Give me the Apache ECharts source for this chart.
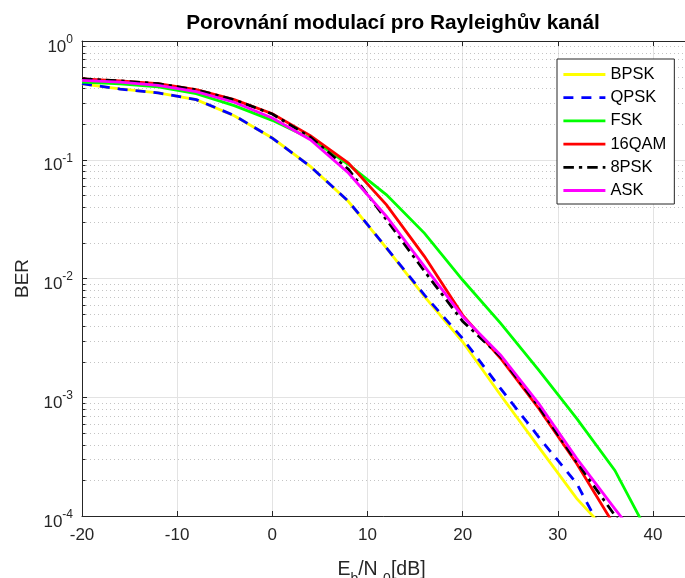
<!DOCTYPE html>
<html>
<head>
<meta charset="utf-8">
<title>BER – Rayleigh</title>
<script src="https://cdn.jsdelivr.net/npm/echarts@6/dist/echarts.min.js"></script>
<style>
  html, body { margin: 0; padding: 0; background: #ffffff; }
  #chart { width: 685px; height: 578px; }
</style>
</head>
<body>
<div id="chart"></div>
<script>
// Eb/N0 sweep [dB]
const snrDb = [-20, -16, -12, -8, -4, 0, 4, 8, 12, 16, 20, 24, 28, 32, 36, 40];

// Simulated bit error rates per modulation
const berBpsk  = [0.4355, 0.3954, 0.3656, 0.3206, 0.2350, 0.1524, 0.0879, 0.0445, 0.0180, 0.00703, 0.00293, 0.00104, 3.80e-4, 1.40e-4, 6.3e-5];
const berQpsk  = [0.4370, 0.3940, 0.3660, 0.3210, 0.2360, 0.1520, 0.0878, 0.0447, 0.0181, 0.00724, 0.00313, 0.00118, 4.62e-4, 1.87e-4, 4.7e-5];
const berFsk   = [0.4498, 0.4355, 0.4102, 0.3606, 0.2858, 0.2148, 0.1514, 0.0912, 0.0507, 0.0240, 0.00971, 0.00419, 0.00169, 6.61e-4, 2.42e-4, 6.0e-5];
const ber16qam = [0.4797, 0.4613, 0.4375, 0.3899, 0.3206, 0.2443, 0.1596, 0.0938, 0.0417, 0.0153, 0.00492, 0.00212, 8.04e-4, 2.75e-4, 8.2e-5];
const ber8psk  = [0.4797, 0.4613, 0.4365, 0.3890, 0.3199, 0.2427, 0.1549, 0.0832, 0.0312, 0.01148, 0.00437, 0.00219, 8.32e-4, 2.84e-4, 1.01e-4, 3.6e-5];
const berAsk   = [0.4667, 0.4498, 0.4236, 0.3750, 0.3048, 0.2249, 0.1476, 0.0773, 0.0333, 0.01259, 0.00479, 0.00226, 8.85e-4, 3.04e-4, 1.15e-4, 4.4e-5];

const seriesNames = ['BPSK', 'QPSK', 'FSK', '16QAM', '8PSK', 'ASK'];
const seriesValues = [berBpsk, berQpsk, berFsk, ber16qam, ber8psk, berAsk];

// Axis ranges and tick spacing
const xMin = -20, xMax = 44, xStep = 10;
const yMin = 1e-4, yMax = 1;

const FONT = '"Liberation Sans", Arial, Helvetica, sans-serif';
const AXIS_COLOR = '#262626';
const GRID_COLOR = '#e3e3e3';
const MINOR_GRID_COLOR = '#c4c4c4';
const LINE_WIDTH = 2.8;

const lineLook = {
  'BPSK':  { color: '#ffff00', type: 'solid' },
  'QPSK':  { color: '#0000ff', type: [10, 8] },
  'FSK':   { color: '#00ff00', type: 'solid' },
  '16QAM': { color: '#ff0000', type: 'solid' },
  '8PSK':  { color: '#000000', type: [10.5, 5, 3.3, 5] },
  'ASK':   { color: '#ff00ff', type: 'solid' }
};

// Minor log-decade levels (2..9 x 10^k) for the dotted grid and small ticks
const minorLevels = [];
for (let e = Math.round(Math.log10(yMin)); e < Math.round(Math.log10(yMax)); e++) {
  for (let m = 2; m <= 9; m++) minorLevels.push(m * Math.pow(10, e));
}

function toPairs(values) {
  return values.map((v, i) => [snrDb[i], v]);
}

const dataSeries = seriesNames.map((name, i) => ({
  name: name,
  type: 'line',
  xAxisIndex: 0,
  yAxisIndex: 0,
  data: toPairs(seriesValues[i]),
  symbol: 'none',
  showSymbol: false,
  smooth: false,
  z: 3,
  color: lineLook[name].color,
  lineStyle: { color: lineLook[name].color, width: LINE_WIDTH, type: lineLook[name].type, cap: 'butt', join: 'miter' },
  emphasis: { disabled: true },
  animation: false
}));

const minorGridSeries = {
  name: 'minor-grid',
  type: 'custom',
  xAxisIndex: 0,
  yAxisIndex: 0,
  silent: true,
  z: 1,
  animation: false,
  data: minorLevels.map(v => [xMin, v]),
  encode: { x: 0, y: 1 },
  renderItem: function (params, api) {
    const cs = params.coordSys;
    const y = Math.round(api.coord([xMin, api.value(1)])[1]) + 0.5;
    const x0 = cs.x, x1 = cs.x + cs.width;
    return {
      type: 'group',
      children: [
        { type: 'line', shape: { x1: x0, y1: y, x2: x1, y2: y },
          style: { stroke: MINOR_GRID_COLOR, lineWidth: 1, lineDash: [1, 3] } },
        { type: 'line', shape: { x1: x0, y1: y, x2: x0 + 3.5, y2: y },
          style: { stroke: AXIS_COLOR, lineWidth: 1 } },
        { type: 'line', shape: { x1: x1 - 3.5, y1: y, x2: x1, y2: y },
          style: { stroke: AXIS_COLOR, lineWidth: 1 } }
      ]
    };
  }
};

const chart = echarts.init(document.getElementById('chart'), null, { renderer: 'canvas' });

chart.setOption({
  backgroundColor: '#ffffff',
  animation: false,
  title: {
    text: 'Porovnání modulací pro Rayleighův kanál',
    left: 388,
    top: 8,
    textAlign: 'center',
    textStyle: { fontFamily: FONT, fontSize: 20.8, fontWeight: 'bold', color: '#000000' }
  },
  grid: {
    left: 82, top: 41, right: -6, bottom: 62,
    containLabel: false,
    outerBoundsMode: 'none'
  },
  legend: {
    data: seriesNames,
    orient: 'vertical',
    left: 557,
    top: 59,
    backgroundColor: '#ffffff',
    borderColor: AXIS_COLOR,
    borderWidth: 1,
    borderRadius: 0,
    padding: [7, 8, 5, 5],
    itemWidth: 42,
    itemHeight: 14,
    itemGap: 6.2,
    selectedMode: false,
    itemStyle: { color: 'rgba(0,0,0,0)', borderWidth: 0, opacity: 0 },
    lineStyle: { width: LINE_WIDTH },
    textStyle: { fontFamily: FONT, fontSize: 16.5, color: '#000000', lineHeight: 16 }
  },
  xAxis: [
    {
      type: 'value', position: 'bottom',
      min: xMin, max: xMax, interval: xStep,
      axisLine: { show: true, onZero: false, lineStyle: { color: AXIS_COLOR, width: 1 } },
      axisTick: { show: true, inside: true, length: 5, lineStyle: { color: AXIS_COLOR } },
      axisLabel: {
        color: AXIS_COLOR, fontFamily: FONT, fontSize: 17, margin: 10, lineHeight: 18,
        formatter: v => (v % xStep === 0 && v <= 40 ? String(v) : '')
      },
      splitLine: { show: true, lineStyle: { color: GRID_COLOR, width: 1 } },
      name: '{m|E}{s|b}{m|/N }{s|0}{m|[dB]}',
      nameLocation: 'middle',
      nameGap: 44,
      nameTextStyle: {
        padding: [0, 10, 0, 0],
        rich: {
          m: { fontFamily: FONT, fontSize: 19.5, color: AXIS_COLOR, padding: [0, 0, 8, 0] },
          s: { fontFamily: FONT, fontSize: 14, color: AXIS_COLOR, padding: [10, 0, 0, 0] }
        }
      }
    },
    {
      type: 'value', position: 'top',
      min: xMin, max: xMax, interval: xStep,
      axisLine: { show: true, onZero: false, lineStyle: { color: AXIS_COLOR, width: 1 } },
      axisTick: { show: true, inside: true, length: 5, lineStyle: { color: AXIS_COLOR } },
      axisLabel: { show: false },
      splitLine: { show: false }
    }
  ],
  yAxis: [
    {
      type: 'log', logBase: 10, position: 'left',
      min: yMin, max: yMax,
      axisLine: { show: true, onZero: false, lineStyle: { color: AXIS_COLOR, width: 1 } },
      axisTick: { show: true, inside: true, length: 5, lineStyle: { color: AXIS_COLOR } },
      axisLabel: {
        margin: 9,
        formatter: v => '{b|10}{p|' + Math.round(Math.log10(v)) + '}',
        rich: {
          b: { fontFamily: FONT, fontSize: 17, color: AXIS_COLOR, padding: [12, 0, 0, 0] },
          p: { fontFamily: FONT, fontSize: 12, color: AXIS_COLOR, padding: [0, 0, 3, 0] }
        }
      },
      splitLine: { show: true, lineStyle: { color: GRID_COLOR, width: 1 } },
      minorTick: { show: false },
      name: 'BER',
      nameLocation: 'middle',
      nameRotate: 90,
      nameGap: 50,
      nameTextStyle: { fontFamily: FONT, fontSize: 19, color: AXIS_COLOR }
    },
    {
      type: 'log', logBase: 10, position: 'right',
      min: yMin, max: yMax,
      axisLine: { show: true, onZero: false, lineStyle: { color: AXIS_COLOR, width: 1 } },
      axisTick: { show: true, inside: true, length: 5, lineStyle: { color: AXIS_COLOR } },
      axisLabel: { show: false },
      splitLine: { show: false }
    }
  ],
  series: [minorGridSeries].concat(dataSeries)
});
</script>
</body>
</html>
